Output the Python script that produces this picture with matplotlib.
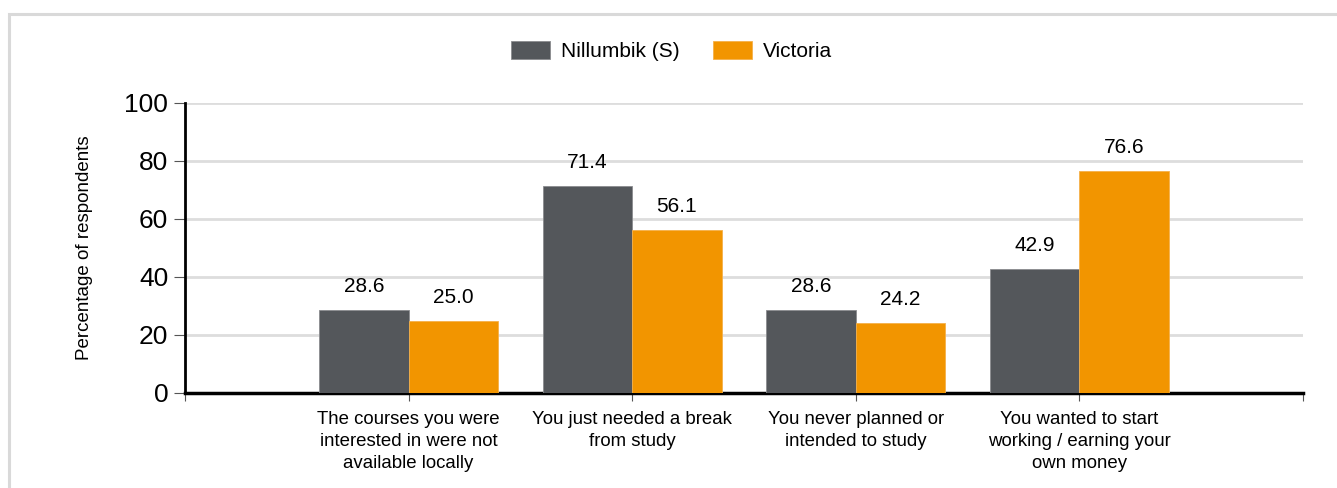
import numpy as np
import matplotlib
matplotlib.use("Agg")
import matplotlib.pyplot as plt
from matplotlib.patches import Rectangle

plt.rcParams["font.family"] = ["Liberation Sans", "DejaVu Sans"]

# ---------------------------------------------------------------------------
# Data
# ---------------------------------------------------------------------------
categories = [
    "The courses you were\ninterested in were not\navailable locally",
    "You just needed a break\nfrom study",
    "You never planned or\nintended to study",
    "You wanted to start\nworking / earning your\nown money",
]
nillumbik = [28.6, 71.4, 28.6, 42.9]
victoria = [25.0, 56.1, 24.2, 76.6]
series_names = ["Nillumbik (S)", "Victoria"]
y_ticks = [0, 20, 40, 60, 80, 100]

DARK = "#54575b"
ORANGE = "#f29500"

fig = plt.figure(figsize=(13.37, 4.88), dpi=100)

# light grey frame round the chart (right and bottom edges fall outside)
fig.patches.append(Rectangle((9 / 1337, -0.1), 1.1, 1.1 - 14 / 488,
                             transform=fig.transFigure, fill=False,
                             edgecolor="#d9d9d9", linewidth=2.2))

ax = fig.add_axes([185 / 1337, 1 - 393 / 488, 1118 / 1337, 290 / 488])

x = np.arange(1, len(categories) + 1)
w = 0.4
b1 = ax.bar(x - w / 2, nillumbik, w, color=DARK, edgecolor="#8a8c8f",
            linewidth=0.6, label=series_names[0], zorder=3)
b2 = ax.bar(x + w / 2, victoria, w, color=ORANGE, edgecolor="#f5b04a",
            linewidth=0.6, label=series_names[1], zorder=3)

for bars in (b1, b2):
    for r in bars:
        ax.annotate(f"{r.get_height():.1f}",
                    (r.get_x() + r.get_width() / 2, r.get_height()),
                    xytext=(0, 10), textcoords="offset points",
                    ha="center", va="bottom", fontsize=15)

ax.set_xlim(0, len(categories) + 1)
ax.set_ylim(0, 100)
ax.set_yticks(y_ticks)
ax.set_yticklabels([str(t) for t in y_ticks], fontsize=19)
ax.set_xticks([0] + list(x) + [len(categories) + 1])
ax.set_xticklabels([""] + categories + [""], fontsize=13.4,
                   linespacing=1.4)
ax.tick_params(axis="y", length=8, color="#555555", pad=4)
ax.tick_params(axis="x", length=6, color="#555555", pad=7)

ax.grid(axis="y", color="#dddddd", linewidth=2, zorder=0)
ax.set_axisbelow(True)
for s in ("top", "right"):
    ax.spines[s].set_visible(False)
ax.spines["left"].set_linewidth(2)
ax.spines["bottom"].set_linewidth(2.5)

ax.set_ylabel("Percentage of respondents", fontsize=13.5, labelpad=23)

fig.legend(handles=[b1, b2], loc="center", bbox_to_anchor=(0.502, 1 - 51 / 488),
           ncol=2, frameon=False, fontsize=15, handlelength=1.9,
           handleheight=1.0, columnspacing=1.6, handletextpad=0.5)

fig.savefig("out.png", dpi=100)
